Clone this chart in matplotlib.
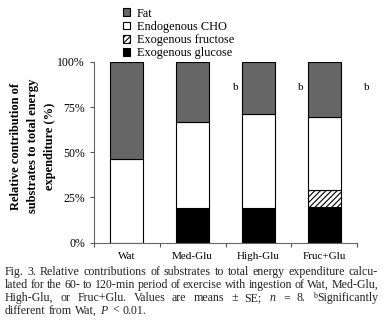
import matplotlib
matplotlib.use("Agg")
import matplotlib.pyplot as plt
import numpy as np

plt.rcParams['font.family'] = ['Liberation Serif', 'DejaVu Serif']
plt.rcParams['mathtext.fontset'] = 'custom'
plt.rcParams['mathtext.rm'] = 'Liberation Serif'
plt.rcParams['mathtext.it'] = 'Liberation Serif:italic'
plt.rcParams['hatch.linewidth'] = 0.8

categories = ["Wat", "Med-Glu", "High-Glu", "Fruc+Glu"]
exo_glucose = [0.0, 19.0, 19.0, 19.5]
exo_fructose = [0.0, 0.0, 0.0, 9.5]
endo_cho = [46.5, 47.5, 52.2, 40.3]
fat = [53.5, 33.5, 28.8, 30.7]
sig_labels = ["", "b", "b", "b"]
yticks = [0, 25, 50, 75, 100]
ytick_labels = ["0%", "25%", "50%", "75%", "100%"]

W, H = 383, 324
fig = plt.figure(figsize=(W/100, H/100), dpi=100)
ax = fig.add_axes([94/W, 1-242.5/H, (357-94)/W, (242.5-62)/H])

x = np.arange(len(categories)) + 0.5
bw = 0.5
ec = 'black'
lw = 0.8
b1 = ax.bar(x, exo_glucose, bw, color='black', edgecolor=ec, linewidth=lw, label='Exogenous glucose')
bottom = np.array(exo_glucose)
b2 = ax.bar(x, exo_fructose, bw, bottom=bottom, color='white', edgecolor=ec, linewidth=lw,
            hatch='//////', label='Exogenous fructose')
bottom = bottom + np.array(exo_fructose)
b3 = ax.bar(x, endo_cho, bw, bottom=bottom, color='white', edgecolor=ec, linewidth=lw, label='Endogenous CHO')
bottom = bottom + np.array(endo_cho)
b4 = ax.bar(x, fat, bw, bottom=bottom, color='#666666', edgecolor=ec, linewidth=lw, label='Fat')

for xi, s in zip(x, sig_labels):
    if s:
        ax.text(xi + 0.65, 86, s, ha='center', va='center', fontsize=8, clip_on=False)

ax.set_xlim(0, len(categories))
ax.set_ylim(0, 100)
ax.set_yticks(yticks)
ax.set_yticklabels(ytick_labels, fontsize=8.5)
ax.set_xticks(np.arange(len(categories) + 1))
ax.set_xticklabels([])
ax.set_xticks(x, minor=True)
ax.set_xticklabels(categories, minor=True, fontsize=8)
ax.tick_params(axis='x', which='minor', length=0, pad=6.5)
ax.tick_params(axis='x', which='major', length=3, direction='out', color='#555555', width=0.8)
ax.tick_params(axis='y', length=3, direction='out', color='#555555', width=0.8, pad=3.5)
for sp in ['top', 'right']:
    ax.spines[sp].set_visible(False)
for sp in ['left', 'bottom']:
    ax.spines[sp].set_color('#666666')
    ax.spines[sp].set_linewidth(0.8)

fig.text(33/W, 1-146/H, "Relative contribution of\nsubstrates to total energy\nexpenditure (%)",
         rotation=90, ha='center', va='center', fontsize=9, fontweight='bold',
         linespacing=1.6, multialignment='center')

leg = fig.legend(handles=[b4, b3, b2, b1], labels=['Fat', 'Endogenous CHO', 'Exogenous fructose', 'Exogenous glucose'],
                 loc='upper left', bbox_to_anchor=(117/W, 1-1.5/H), frameon=False, fontsize=8.8,
                 handlelength=0.6, handleheight=0.6, handletextpad=0.5, labelspacing=0.1, borderpad=0)

# Caption, justified. A word given as a tuple is (superscript, text).
lines = [
    ["Fig.", "3.", "Relative", "contributions", "of", "substrates", "to", "total", "energy", "expenditure", "calcu-"],
    ["lated", "for", "the", "60-", "to", "120-min", "period", "of", "exercise", "with", "ingestion", "of", "Wat,", "Med-Glu,"],
    ["High-Glu,", "or", "Fruc+Glu.", "Values", "are", "means", "\u00b1", "SE;", "$n$", "=", "8.", ("b", "Significantly")],
    ["different", "from", "Wat,", "$P$", "<", "0.01."],
]
x0, x1 = 5, 378
ys = [275, 288, 301, 313.5]
fig.canvas.draw()
r = fig.canvas.get_renderer()


def make_word(w, yb, fs):
    if isinstance(w, tuple):
        t1 = fig.text(0, 1-(yb-3.5)/H, w[0], fontsize=fs*0.65, va='baseline', ha='left', color='#222222')
        t2 = fig.text(0, 1-yb/H, w[1], fontsize=fs, va='baseline', ha='left', color='#222222')
        return [t1, t2]
    return [fig.text(0, 1-yb/H, w, fontsize=fs, va='baseline', ha='left', color='#222222')]


for li, (words, yb) in enumerate(zip(lines, ys)):
    fs = 8.6
    while True:
        groups = [make_word(w, yb, fs) for w in words]
        gw = [[t.get_window_extent(r).width for t in g] for g in groups]
        total = sum(sum(g) for g in gw) + sum(0.3 * (len(g) - 1) for g in gw)
        gap = (x1 - x0 - total) / (len(words) - 1)
        if gap >= 2.2 or fs < 7:
            break
        for g in groups:
            for t in g:
                t.remove()
        fs -= 0.1
    if li == len(lines) - 1:
        gap = 3.2
    cx = x0
    for g, ws in zip(groups, gw):
        for j, (t, wd) in enumerate(zip(g, ws)):
            t.set_x(cx / W)
            cx += wd + (0.3 if j < len(g) - 1 else 0)
        cx += gap

fig.savefig("out.png", dpi=100)
